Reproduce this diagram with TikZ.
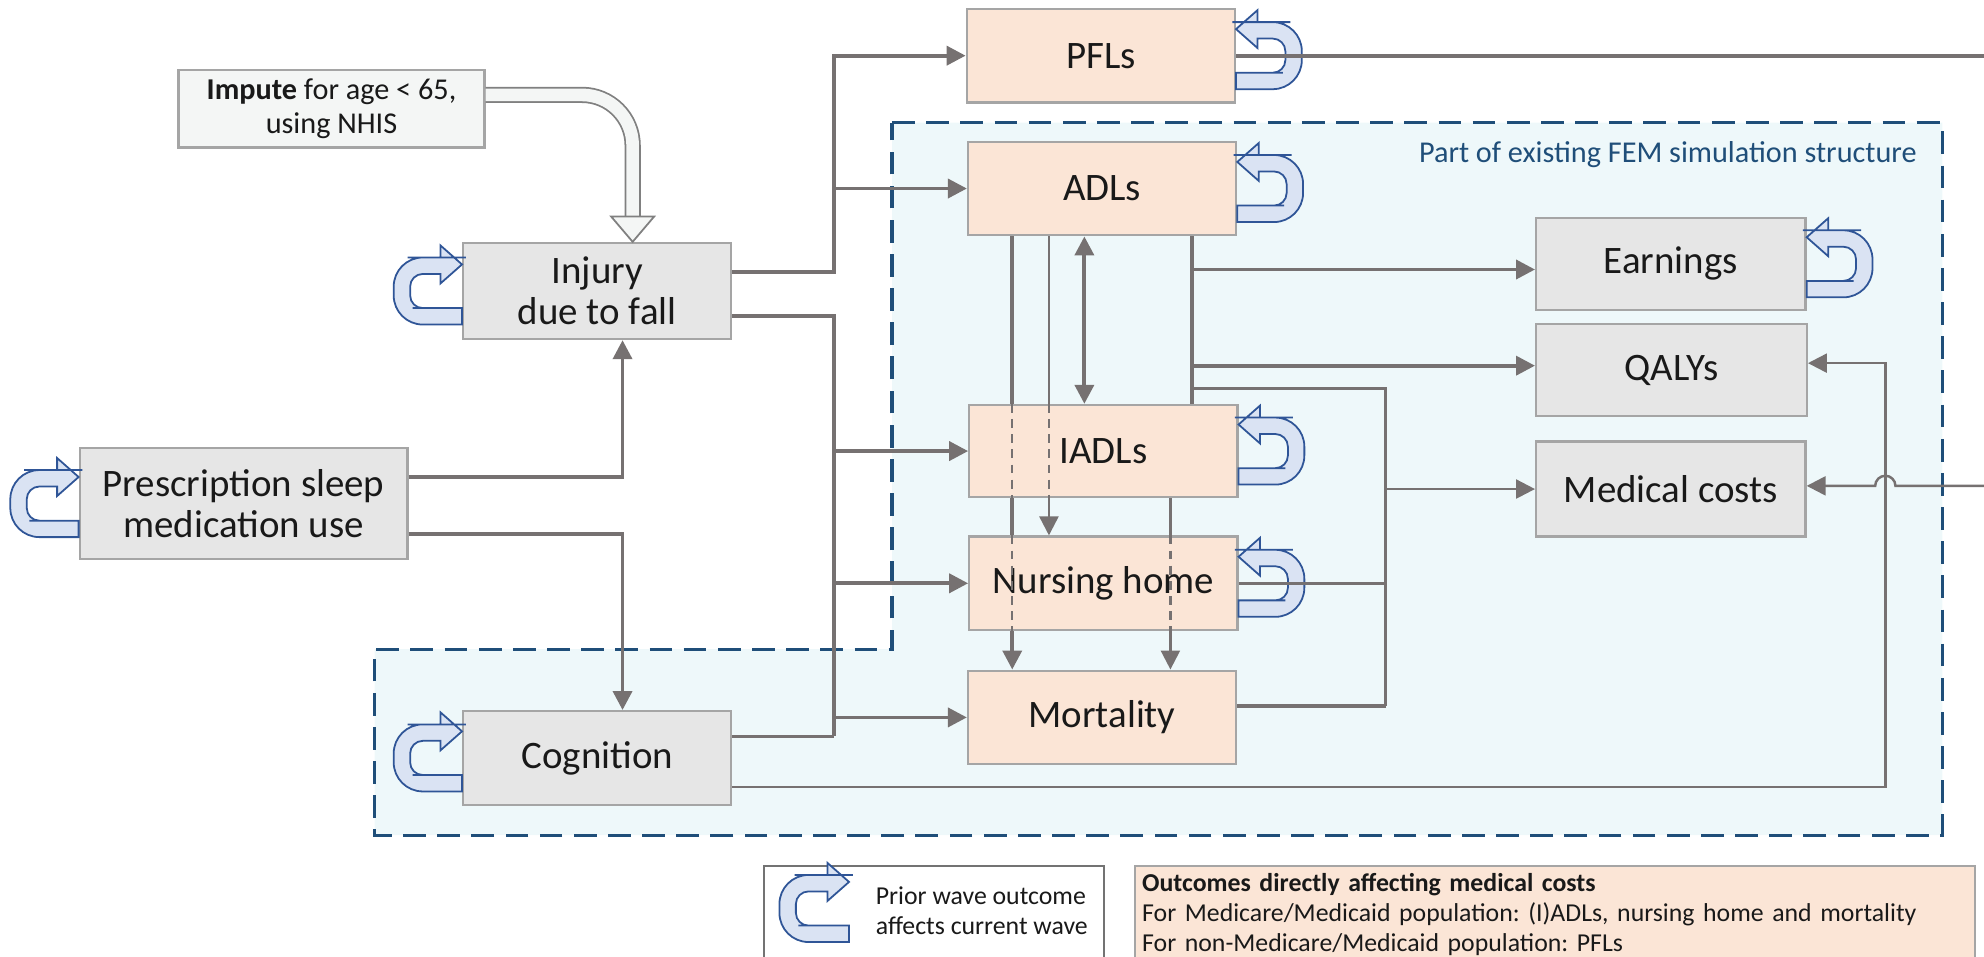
\documentclass[tikz,border=0pt]{standalone}
\usepackage{fontspec}
\setmainfont{Carlito}
\usetikzlibrary{arrows.meta}
\tikzset{>={Triangle[length=0.3cm,width=0.3cm]}}

\definecolor{boxgray}{HTML}{E6E6E6}
\definecolor{boxpeach}{HTML}{FBE5D6}
\definecolor{boxline}{HTML}{A5A5A5}
\definecolor{linegray}{HTML}{767171}
\definecolor{femblue}{HTML}{1F4E79}
\definecolor{femfill}{HTML}{EEF8FA}
\definecolor{loopfill}{HTML}{DAE3F3}
\definecolor{loopline}{HTML}{2F5597}
\definecolor{imputefill}{HTML}{F4F6F5}

\tikzset{
  box/.style={draw=boxline, line width=1pt, inner sep=0pt, minimum width=4.24cm,
    minimum height=1.48cm, align=center, text=black!90, font=\fontsize{17.5}{18.5}\selectfont},
  grybox/.style={box, fill=boxgray},
  pchbox/.style={box, fill=boxpeach},
  conn/.style={draw=linegray, line width=1.7pt},
  connthin/.style={draw=linegray, line width=1.1pt},
  insideline/.style={draw=linegray, line width=1pt, dash pattern=on 0.14cm off 0.1cm},
  waveloopsty/.style={draw=loopline, fill=loopfill, line width=0.8pt},
  smalltext/.style={font=\fontsize{13.6}{15}\selectfont},
  legtext/.style={font=\frenchspacing\fontsize{11.6}{13.4}\selectfont, align=left, text=black!90},
}

% prior wave loop: anchor, side (1 right, -1 left), yscale, reach
\newcommand{\waveloop}[4]{%
  \begin{scope}[shift={(#1)}, xscale=#2, yscale=#3]
    \draw[waveloopsty]
      (0,26.5) [rounded corners=0.46cm] -- (#4,26.5) -- (#4,-26.5) -- (20,-26.5)
      [sharp corners] -- (17,-26.5) -- (17,-36) -- (0,-21) -- (17,-6) -- (17,-13.5) -- (20,-13.5)
      [rounded corners=0.2cm] -- (#4-13,-13.5) -- (#4-13,13.5) -- (#4-25,13.5)
      [sharp corners] -- (0,13.5) -- cycle;
  \end{scope}}

\begin{document}
\begin{tikzpicture}[x=0.02cm, y=-0.02cm]
\useasboundingbox (0,0) rectangle (1568,756);

% FEM region
\draw[femblue, fill=femfill, line width=1.4pt, dash pattern=on 0.36cm off 0.18cm]
  (705,97) -- (1535,97) -- (1535,660) -- (296,660) -- (296,513) -- (705,513) -- cycle;
\node[smalltext, text=femblue, anchor=east] (femlabel) at (1521,122) {Part of existing FEM simulation structure};

% boxes
\node[box, fill=imputefill, smalltext, minimum width=4.84cm, minimum height=1.22cm] (impute) at (262,86)
  {\textbf{Impute} for age < 65,\\using NHIS};
\node[grybox, minimum height=1.52cm] (injury) at (472,230) {Injury\\due to fall};
\node[grybox, minimum width=5.18cm, minimum height=1.76cm] (presc) at (192.5,398) {Prescription sleep\\medication use};
\node[grybox] (cog) at (472,599) {Cognition};
\node[pchbox] (pfl) at (870,44) {PFLs};
\node[pchbox] (adl) at (871,149) {ADLs};
\node[pchbox, minimum height=1.46cm] (iadl) at (872,356.5) {IADLs};
\node[pchbox] (nurs) at (872,461) {Nursing home};
\node[pchbox] (mort) at (871,567) {Mortality};
\node[grybox, minimum width=4.26cm, minimum height=1.46cm] (earn) at (1320.5,208.5) {Earnings};
\node[grybox, minimum width=4.28cm, minimum height=1.46cm] (qaly) at (1321,292.5) {QALYs};
\node[grybox, minimum width=4.26cm, minimum height=1.5cm] (med) at (1320.5,386.5) {Medical costs};

% legend
\node[draw=black!55, fill=white, line width=0.8pt, anchor=north west, minimum width=5.38cm, minimum height=1.5cm] (leg1) at (603,684) {};
\node[legtext, anchor=west] (leg1txt) at (686,720) {Prior wave outcome\\affects current wave};
\node[draw=boxline, fill=boxpeach, line width=0.8pt, anchor=north west, minimum width=13.28cm, minimum height=1.5cm,
  inner xsep=0.12cm, text width=13.04cm, legtext] (leg2) at (896,684)
  {\textbf{Outcomes directly affecting medical costs}\\
   For Medicare/Medicaid population: (I)ADLs, nursing home and mortality\\
   For non-Medicare/Medicaid population: PFLs};

% junctions
\coordinate (bA) at (659,149);
\coordinate (bC) at (659,582);
\coordinate (pbus) at (492,480);
\coordinate (rbus) at (1490,450);
\coordinate (adlbus) at (942,250);
\coordinate (medbus) at (1095,558);
\coordinate (offR) at (1568,384);
\coordinate (hollowx) at (500,0);
\coordinate (c1) at (800,0);
\coordinate (c2) at (829,0);
\coordinate (c3) at (857,0);
\coordinate (c4) at (925,0);
\coordinate (legloop) at (671,718);

% impute arrow
\coordinate (imptip) at (injury.north -| hollowx);
\draw[gray, line width=0.8pt, double=imputefill, double distance=0.2cm, rounded corners=0.8cm]
  (impute.east |- 0,75) -- (hollowx |- 0,75) -- ([yshift=0.4cm]imptip);
\draw[gray, fill=imputefill, line width=0.8pt]
  ([xshift=-0.34cm,yshift=0.4cm]imptip) -- ([xshift=0.34cm,yshift=0.4cm]imptip) -- (imptip) -- cycle;

% injury and cognition bus
\draw[conn,->] (injury.east |- 0,215) -| (bA) |- (pfl.west);
\draw[conn,->] (bA) -- (adl.west);
\draw[conn] (injury.east |- 0,250) -| (bC);
\draw[conn] (cog.east |- bC) -- (bC);
\draw[conn,->] (iadl.west -| bC) -- (iadl.west);
\draw[conn,->] (nurs.west -| bC) -- (nurs.west);
\draw[conn,->] (mort.west -| bC) -- (mort.west);

% prescription
\draw[conn,->] (presc.east |- 0,377) -| (injury.south -| pbus);
\draw[conn,->] (presc.east |- 0,422) -| (cog.north -| pbus);

% cognition to QALYs
\draw[connthin,->] (cog.east |- 0,622) -| (rbus) |- (qaly.east |- 0,287);

% ADLs outputs
\draw[conn] (adl.south -| adlbus) -- (iadl.north -| adlbus);
\draw[conn,->] (adlbus |- 0,213) -- (earn.west |- 0,213);
\draw[conn,->] (adlbus |- 0,289) -- (qaly.west |- 0,289);
\draw[conn] (adlbus |- 0,307) -| (medbus);
\draw[conn] (mort.east |- medbus) -- (medbus);
\draw[connthin,->] (medbus |- med.west) -- (med.west);

% verticals through boxes
\draw[insideline] (iadl.north -| c1) -- (iadl.south -| c1);
\draw[insideline] (nurs.north -| c1) -- (nurs.south -| c1);
\draw[conn] (adl.south -| c1) -- (iadl.north -| c1);
\draw[conn] (iadl.south -| c1) -- (nurs.north -| c1);
\draw[conn,->] (nurs.south -| c1) -- (mort.north -| c1);
\draw[insideline] (iadl.north -| c2) -- (iadl.south -| c2);
\draw[connthin] (adl.south -| c2) -- (iadl.north -| c2);
\draw[connthin,->] (iadl.south -| c2) -- (nurs.north -| c2);
\draw[conn,<->] (adl.south -| c3) -- (iadl.north -| c3);
\draw[insideline] (nurs.north -| c4) -- (nurs.south -| c4);
\draw[connthin] (iadl.south -| c4) -- (nurs.north -| c4);
\draw[connthin,->] (nurs.south -| c4) -- (mort.north -| c4);

% prior wave loops
\waveloop{pfl.east}{1}{1}{52}
\waveloop{adl.east}{1}{1}{52}
\waveloop{iadl.east}{1}{1}{52}
\waveloop{nurs.east}{1}{1}{52}
\waveloop{earn.east}{1}{1}{52}
\waveloop{injury.west}{-1}{1}{54}
\waveloop{presc.west}{-1}{1}{54}
\waveloop{cog.west}{-1}{1}{54}
\waveloop{legloop}{-1}{1}{55}

% lines over loops
\draw[conn] (pfl.east) -- (pfl.east -| offR);
\draw[connthin] (nurs.east) -- (nurs.east -| medbus);
\draw[connthin,->] (offR) -- ([xshift=0.16cm]rbus |- offR)
  arc[start angle=0, end angle=180, radius=0.16cm] -- (med.east |- offR);
\end{tikzpicture}
\end{document}
